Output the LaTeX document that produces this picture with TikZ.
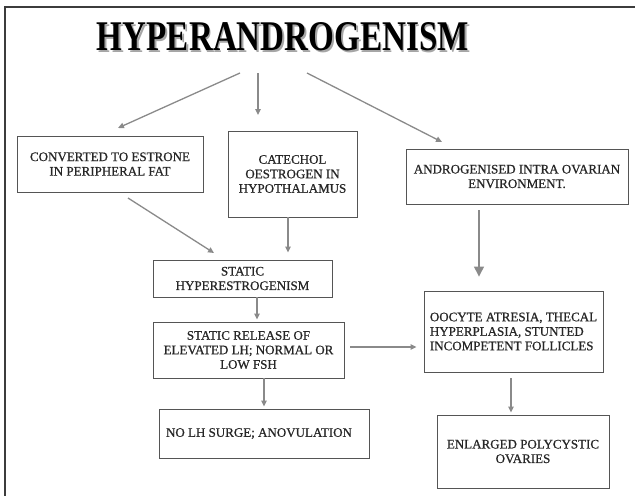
\documentclass[tikz,border=0pt]{standalone}
\usepackage{fontspec}
\setmainfont{Liberation Serif}
\newfontfamily\boxfont[FakeBold=0.7]{Liberation Serif}
\usetikzlibrary{arrows.meta}
\definecolor{arrowgray}{RGB}{138,138,138}
\definecolor{framegray}{RGB}{60,60,60}
\definecolor{boxgray}{RGB}{85,85,85}
\tikzset{
  stepbox/.style={draw=boxgray, line width=0.9pt, inner sep=0pt, align=center,
    font=\boxfont\fontsize{13}{14.5}\selectfont, text=black!85},
  arr/.style={draw=arrowgray, line width=1.3pt, -{Triangle[length=6pt,width=5.5pt]}},
  bigarr/.style={draw=arrowgray, line width=1.3pt, -{Triangle[length=10pt,width=10pt]}},
}
\begin{document}
\begin{tikzpicture}[x=1pt, y=-1pt]
  \useasboundingbox (0,0) rectangle (635,496);
  % open frame: top and left edges only
  \draw[framegray, line width=2pt] (635,7) -- (5,7) -- (5,496);

  % title with a soft shadow
  \node[text=black!35] at (284.5,38.5) {\resizebox{372pt}{28pt}{\bfseries HYPERANDROGENISM}};
  \node (title) at (283,37) {\resizebox{372pt}{28pt}{\bfseries HYPERANDROGENISM}};

  % boxes
  \node[stepbox, minimum width=186pt, minimum height=56pt] (fat) at (110,164)
    {CONVERTED TO ESTRONE\\IN PERIPHERAL FAT};
  \node[stepbox, minimum width=129pt, minimum height=86pt] (cat) at (292.5,174)
    {CATECHOL\\OESTROGEN IN\\HYPOTHALAMUS};
  \node[stepbox, minimum width=179pt, minimum height=37pt] (hyper) at (242.5,278.5)
    {STATIC\\HYPERESTROGENISM};
  \node[stepbox, minimum width=222pt, minimum height=55pt] (andro) at (517,176.5)
    {ANDROGENISED INTRA OVARIAN\\ENVIRONMENT.};
  \node[stepbox, minimum width=191pt, minimum height=56pt] (release) at (248.5,350)
    {STATIC RELEASE OF\\ELEVATED LH; NORMAL OR\\LOW FSH};
  \node[stepbox, minimum width=210pt, minimum height=49pt] (nolh) at (264,433.5)
    {\hspace*{-10pt}NO LH SURGE; ANOVULATION};
  \node[stepbox, minimum width=179pt, minimum height=81pt, align=left] (oocyte) at (513.5,331.5)
    {OOCYTE ATRESIA, THECAL\\HYPERPLASIA, STUNTED\\INCOMPETENT FOLLICLES};
  \node[stepbox, minimum width=172pt, minimum height=73pt] (ovaries) at (523,451.5)
    {ENLARGED POLYCYSTIC\\OVARIES};

  % fan-out from the title
  \coordinate (fanL) at (240,73);
  \coordinate (fanC) at (258,73);
  \coordinate (fanR) at (307,73);
  \coordinate (toFat) at (118,128);
  \coordinate (toCat) at (258,115);
  \coordinate (toAndro) at (442,142);
  \draw[arr] (fanL) -- (toFat);
  \draw[arr] (fanC) -- (toCat);
  \draw[arr] (fanR) -- (toAndro);

  % connectors between boxes
  \coordinate (fatOut) at (128,198);
  \coordinate (hyperIn) at (214,253);
  \draw[arr] (fatOut) -- (hyperIn);
  \draw[arr, shorten >=7pt] ([xshift=-4.5pt]cat.south) -- ([xshift=-4.5pt]cat.south |- hyper.north);
  \draw[arr, shorten >=2pt] (hyper.south -| 257,0) -- (release.north -| 257,0);
  \draw[arr, shorten >=2pt] (release.south -| 264,0) -- (nolh.north -| 264,0);
  \draw[arr, shorten <=6pt, shorten >=7pt] (release.east |- 0,347) -- (oocyte.west |- 0,347);
  \draw[bigarr, shorten <=6pt, shorten >=14pt] (andro.south -| 479,0) -- (oocyte.north -| 479,0);
  \draw[arr, shorten <=6pt, shorten >=2pt] (oocyte.south -| 511,0) -- (ovaries.north -| 511,0);
\end{tikzpicture}
\end{document}
